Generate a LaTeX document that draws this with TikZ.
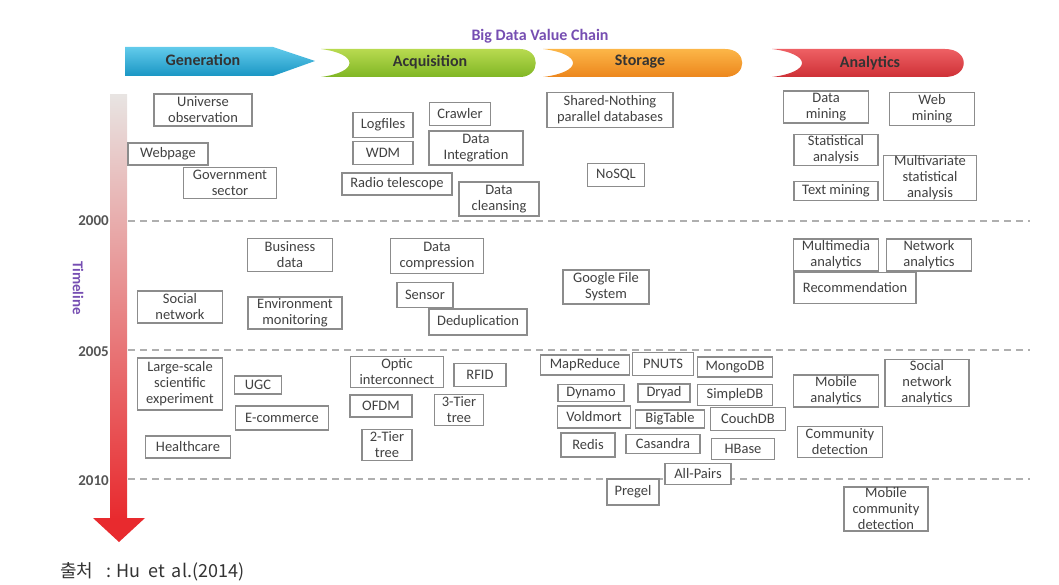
\documentclass[tikz,border=0pt]{standalone}
\usepackage{fontspec}
\setmainfont{Carlito}
\newfontfamily\krfont{Noto Sans CJK KR}
\usetikzlibrary{positioning}
\definecolor{boxline}{RGB}{140,140,140}
\definecolor{boxtext}{RGB}{65,65,65}
\definecolor{chainpurple}{RGB}{118,78,178}
\definecolor{yeargray}{RGB}{85,85,85}
\definecolor{dashgray}{RGB}{175,175,175}
\definecolor{bartop}{RGB}{232,228,226}
\definecolor{barmid}{RGB}{241,150,154}
\definecolor{barred}{RGB}{232,42,46}
\definecolor{gentop}{RGB}{98,203,235}
\definecolor{genbot}{RGB}{26,150,196}
\definecolor{acqtop}{RGB}{184,218,80}
\definecolor{acqbot}{RGB}{128,182,36}
\definecolor{stotop}{RGB}{252,182,72}
\definecolor{stobot}{RGB}{236,134,28}
\definecolor{anltop}{RGB}{238,96,100}
\definecolor{anlbot}{RGB}{206,48,54}

\begin{document}
\begin{tikzpicture}[x=1pt, y=-1pt,
    box/.style={rectangle, draw=boxline, line width=1.1pt, fill=white, align=center, inner sep=0pt, text=boxtext, font=\fontsize{14.5}{16}\selectfont},
    stage/.style={font=\bfseries\fontsize{16}{18}\selectfont, text=black!80},
    year/.style={anchor=east, inner sep=1pt, text=yeargray, font=\bfseries\fontsize{15}{17}\selectfont},
    yearline/.style={dashgray, line width=1.2pt, dash pattern=on 7pt off 5pt}]
    \useasboundingbox (0,0) rectangle (1059,585);

    \node [text=chainpurple, font=\bfseries\fontsize{16}{18}\selectfont] (title) at (540,36) {Big Data Value Chain};

    \shade [top color=gentop, bottom color=genbot] (125,47) -- (273,47) -- (315,61) -- (273,76) -- (125,76) -- cycle;
    \shade [top color=acqtop, bottom color=acqbot] (321,49) -- (520,49) .. controls (541,49) and (541,77) .. (520,77) -- (321,77) .. controls (359,72) and (359,54) .. (321,49) -- cycle;
    \shade [top color=stotop, bottom color=stobot] (543,49) -- (725,49) .. controls (748,49) and (748,77) .. (725,77) -- (543,77) .. controls (583,72) and (583,54) .. (543,49) -- cycle;
    \shade [top color=anltop, bottom color=anlbot] (772,49) -- (945,49) .. controls (970,49) and (970,77) .. (945,77) -- (772,77) .. controls (812,72) and (812,54) .. (772,49) -- cycle;
    \node [stage] (gen) at (203,60) {Generation};
    \node [stage] (acq) at (430,62) {Acquisition};
    \node [stage] (stor) at (640,62) {Storage};
    \node [stage] (anl) at (870,63) {Analytics};

    \shade [top color=bartop, middle color=barmid, bottom color=barred] (110,95) rectangle (127,519);
    \fill [barred] (93,518) -- (145,518) -- (119,542) -- cycle;
    \node [rotate=-90, text=chainpurple, font=\bfseries\fontsize{15}{17}\selectfont] (timeline) at (78,288) {Timeline};

    \node [year] (y2000) at (110,221) {2000};
    \node [year] (y2005) at (110,352) {2005};
    \node [year] (y2010) at (110,481) {2010};
    \coordinate (s2000) at (128,221);
    \coordinate (e2000) at (1030,221);
    \coordinate (s2005) at (128,350);
    \coordinate (e2005) at (1030,350);
    \coordinate (s2010) at (128,479);
    \coordinate (e2010) at (1030,479);
    \draw [yearline] (s2000) -- (e2000);
    \draw [yearline] (s2005) -- (e2005);
    \draw [yearline] (s2010) -- (e2010);

    \node [box, minimum width=98, minimum height=32] (universe) at (203,110) {Universe\\observation};
    \node [box, minimum width=80, minimum height=22] (webpage) at (168,154) {Webpage};
    \node [box, minimum width=93, minimum height=31] (govt) at (230,183) {Government\\sector};
    \node [box, minimum width=85, minimum height=33] (business) at (290,255) {Business\\data};
    \node [box, minimum width=85, minimum height=32] (social) at (180,307) {Social\\network};
    \node [box, minimum width=94, minimum height=32] (environ) at (295,313) {Environment\\monitoring};
    \node [box, minimum width=85, minimum height=52] (largesc) at (180,384) {Large-scale\\scientific\\experiment};
    \node [box, minimum width=47, minimum height=18] (ugc) at (258,385) {UGC};
    \node [box, minimum width=93, minimum height=24] (ecomm) at (282,418) {E-commerce};
    \node [box, minimum width=85, minimum height=22] (health) at (188,447) {Healthcare};

    \node [box, minimum width=60, minimum height=25] (logfiles) at (383,125) {Logfiles};
    \node [box, minimum width=60, minimum height=23] (wdm) at (383,153) {WDM};
    \node [box, minimum width=110, minimum height=22] (radio) at (397,184) {Radio telescope};
    \node [box, minimum width=61, minimum height=23] (crawler) at (460,114) {Crawler};
    \node [box, minimum width=94, minimum height=34] (integ) at (476,148) {Data\\Integration};
    \node [box, minimum width=80, minimum height=34] (cleansing) at (499,199) {Data\\cleansing};
    \node [box, minimum width=93, minimum height=35] (compress) at (437,256) {Data\\compression};
    \node [box, minimum width=56, minimum height=25] (sensor) at (425,295) {Sensor};
    \node [box, minimum width=98, minimum height=26] (dedup) at (478,322) {Deduplication};
    \node [box, minimum width=93, minimum height=31] (optic) at (397,372) {Optic\\interconnect};
    \node [box, minimum width=52, minimum height=23] (rfid) at (480,375) {RFID};
    \node [box, minimum width=62, minimum height=22] (ofdm) at (381,406) {OFDM};
    \node [box, minimum width=49, minimum height=31] (tier3) at (459,410) {3-Tier\\tree};
    \node [box, minimum width=50, minimum height=31] (tier2) at (387,445) {2-Tier\\tree};

    \node [box, minimum width=126, minimum height=35] (shared) at (610,110) {Shared-Nothing\\parallel databases};
    \node [box, minimum width=57, minimum height=23] (nosql) at (616,175) {NoSQL};
    \node [box, minimum width=86, minimum height=34] (gfs) at (606,287) {Google File\\System};
    \node [box, minimum width=89, minimum height=20] (mapred) at (585,365) {MapReduce};
    \node [box, minimum width=61, minimum height=23] (pnuts) at (663,364) {PNUTS};
    \node [box, minimum width=75, minimum height=20] (mongo) at (735,367) {MongoDB};
    \node [box, minimum width=66, minimum height=17] (dynamo) at (591,393) {Dynamo};
    \node [box, minimum width=52, minimum height=18] (dryad) at (664,393) {Dryad};
    \node [box, minimum width=75, minimum height=21] (simpledb) at (735,395) {SimpleDB};
    \node [box, minimum width=73, minimum height=22] (voldmort) at (594,417) {Voldmort};
    \node [box, minimum width=69, minimum height=18] (bigtable) at (670,419) {BigTable};
    \node [box, minimum width=75, minimum height=23] (couch) at (748,419) {CouchDB};
    \node [box, minimum width=54, minimum height=24] (redis) at (588,445) {Redis};
    \node [box, minimum width=74, minimum height=19] (casandra) at (663,444) {Casandra};
    \node [box, minimum width=63, minimum height=21] (hbase) at (743,449) {HBase};
    \node [box, minimum width=66, minimum height=21] (allpairs) at (698,474) {All-Pairs};
    \node [box, minimum width=52, minimum height=26] (pregel) at (633,492) {Pregel};

    \node [box, minimum width=85, minimum height=32] (dmining) at (826,107) {Data\\mining};
    \node [box, minimum width=85, minimum height=33] (wmining) at (932,109) {Web\\mining};
    \node [box, minimum width=84, minimum height=31] (statan) at (836,150) {Statistical\\analysis};
    \node [box, minimum width=93, minimum height=44] (multivar) at (930,178) {Multivariate\\statistical\\analysis};
    \node [box, minimum width=84, minimum height=19] (textmin) at (836,191) {Text mining};
    \node [box, minimum width=85, minimum height=32] (mmedia) at (836,255) {Multimedia\\analytics};
    \node [box, minimum width=85, minimum height=32] (netan) at (929,255) {Network\\analytics};
    \node [box, minimum width=122, minimum height=31] (recomm) at (855,288) {Recommendation};
    \node [box, minimum width=85, minimum height=32] (mobile) at (836,391) {Mobile\\analytics};
    \node [box, minimum width=84, minimum height=47] (socnet) at (927,383) {Social\\network\\analytics};
    \node [box, minimum width=85, minimum height=31] (community) at (840,442) {Community\\detection};
    \node [box, minimum width=84, minimum height=44] (mobcomm) at (886,509) {Mobile\\community\\detection};

    \node [anchor=west, inner sep=0pt, text=black!80, font=\krfont\fontsize{18}{20}\selectfont] (source) at (60,572) {출처\hspace{13pt}:\hspace{5pt}Hu\hspace{8pt}et\hspace{7pt}al.(2014)};
\end{tikzpicture}
\end{document}
